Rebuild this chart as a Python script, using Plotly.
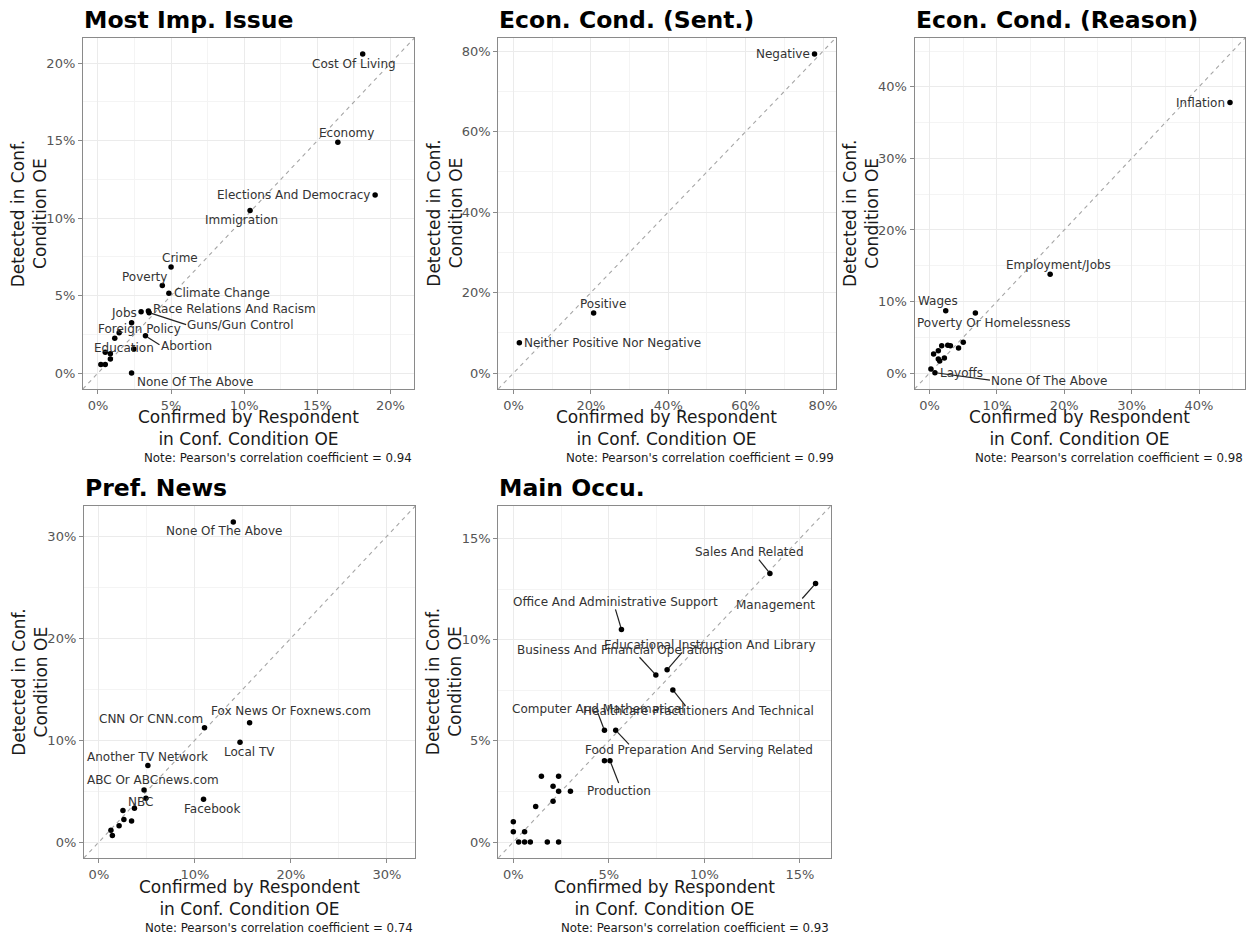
import plotly.graph_objects as go

W, H = 1257, 937
FONT = "DejaVu Sans"

# ---------------- data (percent) ----------------
issue_labels = ["Cost Of Living", "Economy", "Elections And Democracy", "Immigration", "Crime",
                "Poverty", "Climate Change", "Race Relations And Racism", "Jobs", "Guns/Gun Control",
                "Foreign Policy", "", "", "Abortion", "", "Education", "", "", "", "", "None Of The Above"]
issue_x = [18.1, 16.4, 18.95, 10.4, 5.0, 4.4, 4.85, 3.45, 2.95, 3.5, 2.3, 1.45, 1.15, 3.25, 0.5, 0.85, 0.85, 2.45, 0.2, 0.5, 2.3]
issue_y = [20.6, 14.9, 11.5, 10.5, 6.85, 5.65, 5.15, 4.0, 3.95, 3.9, 3.25, 2.6, 2.25, 2.4, 1.35, 1.25, 0.9, 1.55, 0.55, 0.55, 0.0]

sent_labels = ["Negative", "Positive", "Neither Positive Nor Negative"]
sent_x = [77.8, 20.7, 1.5]
sent_y = [79.3, 14.9, 7.5]

reason_labels = ["Inflation", "Employment/Jobs", "Wages", "Poverty Or Homelessness", "", "", "", "", "",
                 "", "", "", "", "", "Layoffs", "None Of The Above"]
reason_x = [44.6, 17.9, 2.4, 6.8, 0.6, 1.3, 1.8, 2.7, 3.1, 4.3, 5.0, 2.2, 1.3, 1.5, 0.2, 0.8]
reason_y = [37.8, 13.8, 8.7, 8.4, 2.65, 3.1, 3.8, 3.9, 3.8, 3.5, 4.3, 2.1, 1.95, 1.7, 0.55, 0.05]

news_labels = ["None Of The Above", "CNN Or CNN.com", "Fox News Or Foxnews.com", "Local TV",
               "Another TV Network", "ABC Or ABCnews.com", "", "NBC", "", "Facebook", "", "", "", "", ""]
news_x = [14.0, 11.0, 15.7, 14.7, 5.1, 4.7, 4.9, 3.7, 2.5, 10.9, 2.6, 3.4, 2.1, 1.25, 1.4]
news_y = [31.4, 11.2, 11.7, 9.8, 7.5, 5.1, 4.3, 3.3, 3.1, 4.2, 2.2, 2.05, 1.6, 1.15, 0.65]

occu_labels = ["Sales And Related", "Management", "Office And Administrative Support",
               "Business And Financial Operations", "Educational Instruction And Library",
               "Healthcare Practitioners And Technical", "Computer And Mathematical",
               "Food Preparation And Serving Related", "", "Production",
               "", "", "", "", "", "", "", "", "", "", "", "", "", "", ""]
occu_x = [13.43, 15.82, 5.66, 7.46, 8.05, 8.35, 4.77, 5.36, 4.77, 5.06,
          1.47, 2.37, 2.08, 2.37, 2.99, 1.17, 2.08, 0.0, 0.0, 0.59, 0.28, 0.59, 0.89, 1.78, 2.37]
occu_y = [13.28, 12.78, 10.51, 8.26, 8.52, 7.52, 5.52, 5.52, 4.02, 4.02,
          3.25, 3.25, 2.76, 2.51, 2.51, 1.76, 2.02, 1.0, 0.51, 0.51, 0.0, 0.0, 0.0, 0.0, 0.0]

titles = ["Most Imp. Issue", "Econ. Cond. (Sent.)", "Econ. Cond. (Reason)", "Pref. News", "Main Occu."]
corr_values = ["0.94", "0.99", "0.98", "0.74", "0.93"]

# ---------------- label placement: (label dx, dy, segment-end dx, dy) in screen pixels ----------------
issue_offsets = [(-9, 10), (9, -9), (-81.5, 0), (-9, 10), (9, -9), (-18, -9),
                 (53, 0), (86, -2), (-17, 1), (91, 12.5, 37, 12), (7.5, 6.3), None, None,
                 (41, 10, 14, 9), None, (14, -6), None, None, None, None, (63, 9)]
sent_offsets = [(-31.5, 0), (9, -9), (93, 0)]
reason_offsets = [(-29.5, 0), (8.6, -9.3), (-8, -9.4), (19, 10)] + [None] * 10 + \
                 [(31, 4), (114, 8.4, 55, 7.4)]
news_offsets = [(-9, 9.3), (-53, -9), (41, -12), (9, 10), (-0.5, -8.7), (9, -9.7),
                None, (6, -6), None, (8, 9.3)] + [None] * 5
occu_offsets = [(-20, -21, -11, -13.7), (-40, 21.7, -13.3, 15), (-6, -27.6, -6, -20),
                (-36, -25, -16.3, -17.7), (43, -25, 15, -17.3), (26, 21, 12.7, 16),
                (-6, -21, -6.7, -17.7), (83, 20, 13.3, 14), None, (9, 30, 8.7, 22.3)] + [None] * 15

panels = [
    dict(x=issue_x, y=issue_y, labels=issue_labels, offs=issue_offsets, box=(83, 415, 38, 389), dtick=5),
    dict(x=sent_x, y=sent_y, labels=sent_labels, offs=sent_offsets, box=(499, 837, 38, 389), dtick=20),
    dict(x=reason_x, y=reason_y, labels=reason_labels, offs=reason_offsets, box=(916, 1247, 38, 389), dtick=10),
    dict(x=news_x, y=news_y, labels=news_labels, offs=news_offsets, box=(84, 416, 506, 858), dtick=10),
    dict(x=occu_x, y=occu_y, labels=occu_labels, offs=occu_offsets, box=(499, 832, 506, 858), dtick=5),
]

fig = go.Figure()
annotations = []
shapes = []
layout_axes = {}

for i, p in enumerate(panels):
    n = i + 1
    xa = "x" if n == 1 else f"x{n}"
    ya = "y" if n == 1 else f"y{n}"
    m = max(max(p["x"]), max(p["y"]))
    lo, hi = -0.05 * m, 1.05 * m
    x0, x1, y0, y1 = p["box"]

    fig.add_trace(go.Scatter(x=[lo, hi], y=[lo, hi], mode="lines",
                             line=dict(color="#a6a6a6", dash="4px,4px", width=1.1),
                             xaxis=xa, yaxis=ya, hoverinfo="skip", showlegend=False))
    fig.add_trace(go.Scatter(x=p["x"], y=p["y"], mode="markers",
                             marker=dict(color="black", size=5.5),
                             xaxis=xa, yaxis=ya, showlegend=False))

    common = dict(range=[lo, hi], showline=True, mirror=True, linecolor="#8a8a8a", linewidth=1,
                  ticks="outside", ticklen=4, tickcolor="#8a8a8a", tickwidth=1,
                  ticksuffix="%", tick0=0, dtick=p["dtick"],
                  showgrid=True, gridcolor="#EBEBEB", gridwidth=1,
                  minor=dict(dtick=p["dtick"] / 2, tick0=0, showgrid=True, gridcolor="#F4F4F4", gridwidth=0.6),
                  zeroline=False, fixedrange=True,
                  tickfont=dict(family=FONT, size=13, color="#555555"))
    layout_axes["xaxis" if n == 1 else f"xaxis{n}"] = dict(domain=[x0 / W, x1 / W], anchor=ya, **common)
    layout_axes["yaxis" if n == 1 else f"yaxis{n}"] = dict(domain=[1 - y1 / H, 1 - y0 / H], anchor=xa, **common)

    # point labels (+ repel-style segments)
    for lab, px, py, off in zip(p["labels"], p["x"], p["y"], p["offs"]):
        if not lab or off is None:
            continue
        dx, dy = off[0], off[1]
        annotations.append(dict(x=px, y=py, xref=xa, yref=ya, text=lab, showarrow=False,
                                xshift=dx, yshift=-dy, xanchor="center", yanchor="middle",
                                font=dict(family=FONT, size=12, color="#333333")))
        if len(off) == 4:
            sx, sy = off[2], off[3]
            ux, uy = sx / (sx * sx + sy * sy) ** 0.5, sy / (sx * sx + sy * sy) ** 0.5
            shapes.append(dict(type="line", xref=xa, yref=ya,
                               xsizemode="pixel", ysizemode="pixel", xanchor=px, yanchor=py,
                               x0=ux * 2.5, y0=-uy * 2.5, x1=sx, y1=-sy,
                               line=dict(color="#222222", width=1.2)))

    xl, xr = x0 / W, x1 / W
    yb, yt = 1 - y1 / H, 1 - y0 / H
    # panel title
    annotations.append(dict(x=xl, y=yt, xref="paper", yref="paper", text=f"<b>{titles[i]}</b>",
                            showarrow=False, xanchor="left", yanchor="middle", yshift=18, xshift=-1,
                            font=dict(family=FONT, size=23.5, color="black")))
    # x-axis title
    annotations.append(dict(x=(xl + xr) / 2, y=yb, xref="paper", yref="paper",
                            text="Confirmed by Respondent<br>in Conf. Condition OE",
                            showarrow=False, xanchor="center", yanchor="middle", yshift=-39.5,
                            font=dict(family=FONT, size=17, color="#1a1a1a")))
    # y-axis title
    annotations.append(dict(x=xl, y=(yb + yt) / 2, xref="paper", yref="paper",
                            text="Detected in Conf.<br>Condition OE", textangle=-90,
                            showarrow=False, xanchor="center", yanchor="middle", xshift=-54,
                            font=dict(family=FONT, size=17, color="#1a1a1a")))
    # note
    annotations.append(dict(x=xr, y=yb, xref="paper", yref="paper",
                            text=f"Note: Pearson's correlation coefficient = {corr_values[i]}",
                            showarrow=False, xanchor="right", yanchor="middle", yshift=-69.5,
                            font=dict(family=FONT, size=11.8, color="#1a1a1a")))

fig.update_layout(width=W, height=H, margin=dict(l=0, r=0, t=0, b=0),
                  plot_bgcolor="white", paper_bgcolor="white",
                  font=dict(family=FONT), annotations=annotations, shapes=shapes, showlegend=False,
                  **layout_axes)

fig.write_html("out.html", config={"displayModeBar": False},
               post_script="document.body.style.margin='0px';")
